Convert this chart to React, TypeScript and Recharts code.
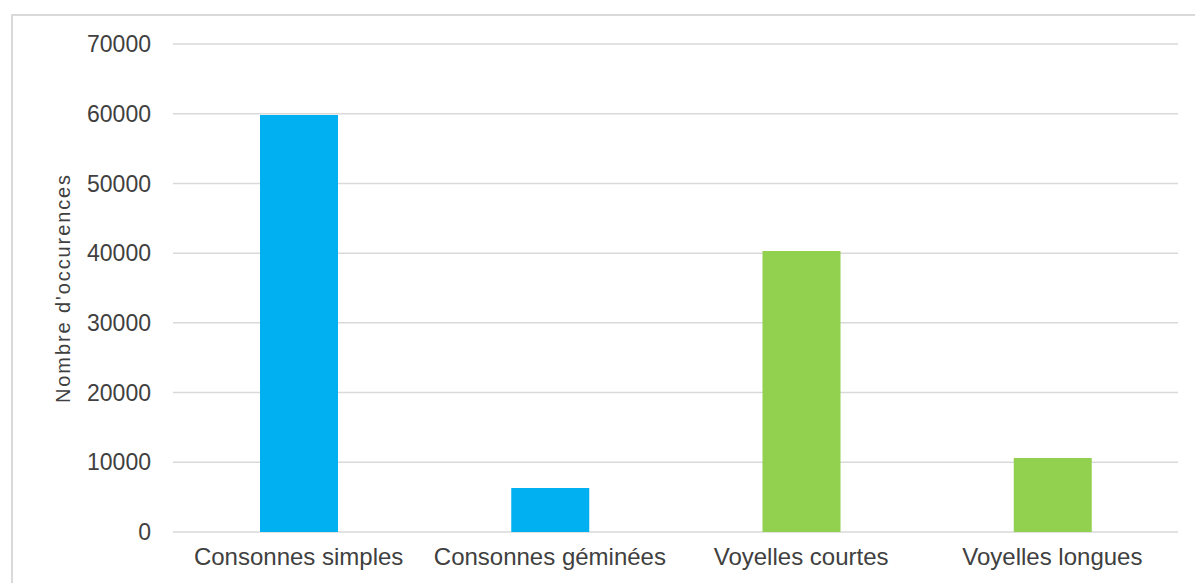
import React from "react";
import { BarChart, Bar, XAxis, YAxis, CartesianGrid, Cell, Label } from "recharts";

const categories = ["Consonnes simples", "Consonnes géminées", "Voyelles courtes", "Voyelles longues"];
const occurrences = [59800, 6300, 40300, 10600];
const barColors = ["#00B0F0", "#00B0F0", "#92D050", "#92D050"];
const yTicks = [0, 10000, 20000, 30000, 40000, 50000, 60000, 70000];

const data = categories.map((name, i) => ({ name, value: occurrences[i] }));

const FONT = "'Liberation Sans', Arial, sans-serif";

export default function App() {
  return (
    <div style={{ position: "absolute", left: 0, top: 0, width: 1195, height: 583, overflow: "hidden", background: "#fff" }}>
      <div
        style={{
          position: "absolute",
          left: 11,
          top: 14,
          width: 1300,
          height: 700,
          border: "2px solid #d9d9d9",
          boxSizing: "border-box",
        }}
      />
      <div style={{ position: "absolute", left: 0, top: 0 }}>
        <BarChart
          width={1195}
          height={583}
          data={data}
          margin={{ top: 44, right: 17, bottom: 11, left: 53 }}
        >
          <CartesianGrid vertical={false} stroke="#d9d9d9" strokeWidth={1.5} />
          <XAxis
            dataKey="name"
            height={40}
            axisLine={false}
            tickLine={false}
            tickSize={6}
            tickMargin={10}
            tick={{ fill: "#404040", fontSize: 24, fontFamily: FONT }}
            interval={0}
          />
          <YAxis
            width={120}
            domain={[0, 70000]}
            ticks={yTicks}
            axisLine={false}
            tickLine={false}
            tickSize={6}
            tickMargin={16}
            tick={{ fill: "#404040", fontSize: 23, fontFamily: FONT }}
          >
            <Label
              value="Nombre d'occurences"
              angle={-90}
              position="insideLeft"
              offset={10}
              style={{ fill: "#404040", fontSize: 20, fontFamily: FONT, letterSpacing: 1.9, textAnchor: "middle" }}
            />
          </YAxis>
          <Bar dataKey="value" barSize={78} isAnimationActive={false}>
            {data.map((d, i) => (
              <Cell key={d.name} fill={barColors[i]} />
            ))}
          </Bar>
        </BarChart>
      </div>
    </div>
  );
}
